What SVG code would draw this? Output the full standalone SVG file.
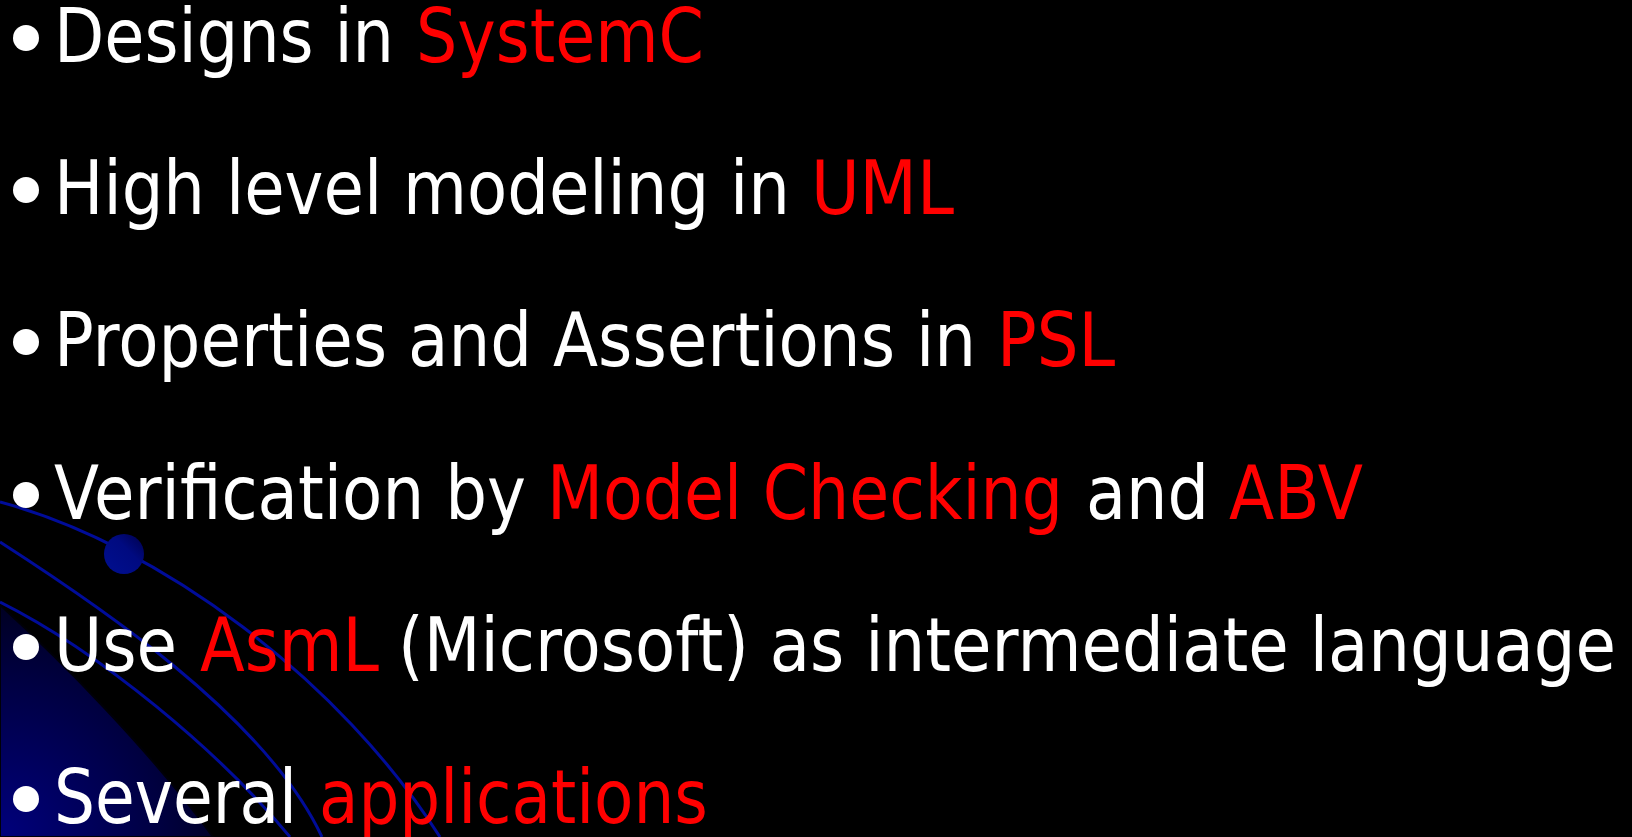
<svg xmlns="http://www.w3.org/2000/svg" width="1632" height="837" viewBox="0 0 1632 837">
  <style>
    .t { font-family: "DejaVu Sans", Verdana, sans-serif; font-size: 74px; fill: #FFFFFF; }
    .r { fill: #FF0000; }
    .b { fill: #FFFFFF; }
    .arc { fill: none; stroke: #000c99; stroke-width: 3; }
  </style>
  <defs>
    <radialGradient id="glow" cx="0" cy="837" r="270" gradientUnits="userSpaceOnUse">
      <stop offset="0" stop-color="#00007c"/>
      <stop offset="0.6" stop-color="#000040"/>
      <stop offset="1" stop-color="#000012"/>
    </radialGradient>
    <linearGradient id="dotg" x1="0" y1="1" x2="1" y2="0">
      <stop offset="0" stop-color="#000f90"/>
      <stop offset="0.6" stop-color="#000a80"/>
      <stop offset="1" stop-color="#00004a"/>
    </linearGradient>
  </defs>
  <rect width="1632" height="837" fill="#000000"/>

  <g id="decoration">
    <path d="M0,605 C60,660 150,750 213,837 L0,837 Z" fill="url(#glow)" stroke="#000008" stroke-width="2"/>
    <path class="arc" d="M0,502 C160,545 340,680 440,837"/>
    <path class="arc" d="M0,542 C90,600 265,715 322,837"/>
    <path class="arc" d="M0,602 C100,652 220,752 290,837"/>
    <circle cx="124" cy="554" r="20" fill="url(#dotg)"/>
  </g>

  <g id="line1">
    <circle class="b" cx="26" cy="38" r="13"/>
    <g transform="scale(0.8875 1)">
      <text class="t" x="60.85" y="62" textLength="383.1" lengthAdjust="spacingAndGlyphs">Designs in</text>
      <text class="t r" x="468.7" y="62" textLength="324.5" lengthAdjust="spacingAndGlyphs">SystemC</text>
    </g>
  </g>
  <g id="line2">
    <circle class="b" cx="26" cy="190" r="13"/>
    <g transform="scale(0.8875 1)">
      <text class="t" x="60.85" y="214" textLength="829.3" lengthAdjust="spacingAndGlyphs">High level modeling in</text>
      <text class="t r" x="913.8" y="214" textLength="161.1" lengthAdjust="spacingAndGlyphs">UML</text>
    </g>
  </g>
  <g id="line3">
    <circle class="b" cx="26" cy="342" r="13"/>
    <g transform="scale(0.8875 1)">
      <text class="t" x="60.85" y="366" textLength="1038.9" lengthAdjust="spacingAndGlyphs">Properties and Assertions in</text>
      <text class="t r" x="1123.4" y="366" textLength="133" lengthAdjust="spacingAndGlyphs">PSL</text>
    </g>
  </g>
  <g id="line4">
    <circle class="b" cx="26" cy="495" r="13"/>
    <g transform="scale(0.8875 1)">
      <text class="t" x="60.85" y="519" textLength="531.8" lengthAdjust="spacingAndGlyphs">Verification by</text>
      <text class="t r" x="616.3" y="519" textLength="581.4" lengthAdjust="spacingAndGlyphs">Model Checking</text>
      <text class="t" x="1223.7" y="519" textLength="138.6" lengthAdjust="spacingAndGlyphs">and</text>
      <text class="t r" x="1384.8" y="519" textLength="151" lengthAdjust="spacingAndGlyphs">ABV</text>
    </g>
  </g>
  <g id="line5">
    <circle class="b" cx="26" cy="647" r="13"/>
    <g transform="scale(0.8875 1)">
      <text class="t" x="60.85" y="671" textLength="138.6" lengthAdjust="spacingAndGlyphs">Use</text>
      <text class="t r" x="225.4" y="671" textLength="201.7" lengthAdjust="spacingAndGlyphs">AsmL</text>
      <text class="t" x="448.5" y="671" textLength="1372.4" lengthAdjust="spacingAndGlyphs">(Microsoft) as intermediate language</text>
    </g>
  </g>
  <g id="line6">
    <circle class="b" cx="26" cy="799" r="13"/>
    <g transform="scale(0.8875 1)">
      <text class="t" x="60.85" y="823" textLength="273.8" lengthAdjust="spacingAndGlyphs">Several</text>
      <text class="t r" x="359.4" y="823" textLength="438.3" lengthAdjust="spacingAndGlyphs">applications</text>
    </g>
  </g>
</svg>
